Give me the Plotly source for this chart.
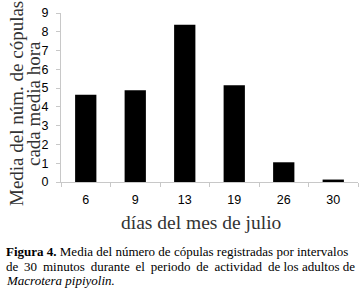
import plotly.graph_objects as go

days = ["6", "9", "13", "19", "26", "30"]
means = [4.65, 4.88, 8.38, 5.15, 1.05, 0.13]
y_ticks = [0, 1, 2, 3, 4, 5, 6, 7, 8, 9]

fig = go.Figure(go.Bar(x=days, y=means, marker=dict(color="black", line=dict(width=0)), width=0.43))

tickfont = dict(family="Liberation Sans, Arial", size=12.5, color="black")
fig.update_layout(
    width=362, height=293,
    margin=dict(l=61, r=4, t=13, b=111, pad=0),
    plot_bgcolor="white", paper_bgcolor="white",
    showlegend=False,
    xaxis=dict(type="category", showline=True, linecolor="#c8c8c8", linewidth=1, automargin=False,
               ticks="outside", tickson="boundaries", ticklen=4, tickcolor="#c8c8c8",
               ticklabelstandoff=6, tickfont=tickfont),
    yaxis=dict(range=[0, 9], tickvals=y_ticks, showline=True, linecolor="#c8c8c8", linewidth=1,
               automargin=False,
               ticks="outside", ticklen=4, tickcolor="#c8c8c8", showgrid=False, zeroline=False,
               ticklabelstandoff=5, tickfont=tickfont),
)

serif = "Liberation Serif, Times New Roman"
y_title_lines = ["Media del núm. de cópulas", "cada media hora"]
for line, xc in zip(y_title_lines, [16, 33]):
    fig.add_annotation(text=line, xref="paper", yref="paper",
                       x=(xc - 61) / 297, y=(182 - 104) / 169, xanchor="center", yanchor="middle",
                       showarrow=False, textangle=-90, font=dict(family=serif, size=19, color="#333"))
fig.add_annotation(text="días del mes de julio", xref="paper", yref="paper",
                   x=(201 - 61) / 297, y=(182 - 223) / 169, xanchor="center", yanchor="middle",
                   showarrow=False, font=dict(family=serif, size=19.5, color="#333"))

line2 = "de 30 minutos durante el periodo de actividad de los adultos de".replace(" ", " \u2009", 8)
caption = [
    "<b>Figura 4.</b> Media del número de cópulas registradas por intervalos",
    line2,
    "<i>Macrotera pipiyolin.</i>",
]
ys = [251, 266, 280]
for line, yy in zip(caption, ys):
    fig.add_annotation(text=line, xref="paper", yref="paper",
                       x=(4 - 61) / 297, y=(182 - yy) / 169, xanchor="left", yanchor="middle",
                       showarrow=False, font=dict(family=serif, size=13, color="black"))

fig.write_html("out.html", config={"displayModeBar": False},
               post_script="document.body.style.margin='0';")
